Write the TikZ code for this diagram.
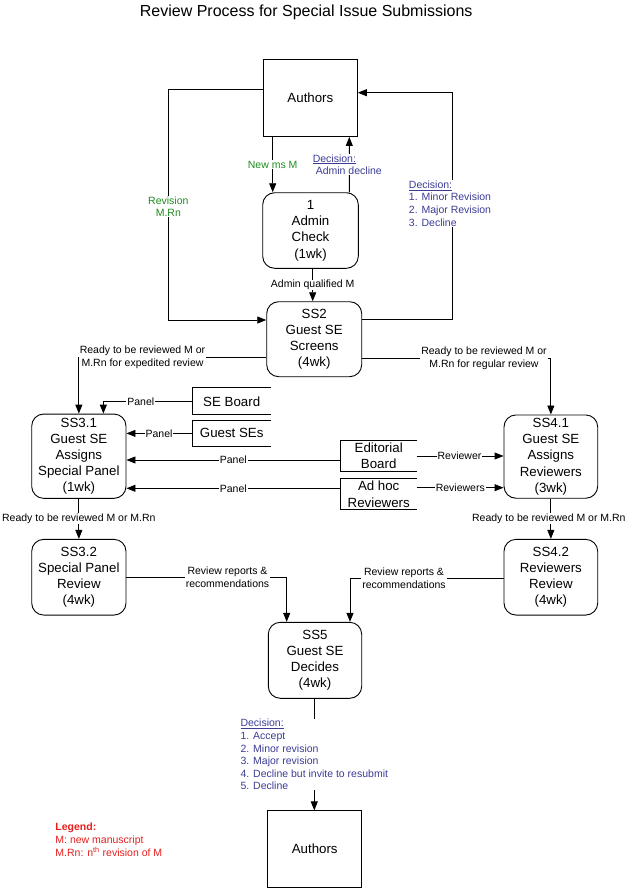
\documentclass[tikz,border=0pt]{standalone}
\usepackage{fontspec}
\setmainfont{Liberation Sans}
\usetikzlibrary{arrows.meta}
\definecolor{grn}{RGB}{30,140,30}
\definecolor{dec}{RGB}{60,60,150}
\definecolor{leg}{RGB}{230,30,30}
\begin{document}
\begin{tikzpicture}[x=1pt,y=-1pt, line width=0.9pt,
  arr/.style={-{Triangle[length=9pt,width=7pt]}},
  bigfont/.style={font=\fontsize{13.3}{16.2}\selectfont},
  ent/.style={draw, inner sep=0pt, bigfont, minimum width=94pt, minimum height=77pt},
  proc/.style={draw, rounded corners=12pt, inner sep=0pt, align=center, bigfont},
  store/.style={inner sep=0pt, align=center, bigfont},
  lab/.style={fill=white, inner xsep=1pt, inner ysep=0.5pt, align=center, font=\fontsize{10.5}{12.6}\selectfont}]
\useasboundingbox (0,0) rectangle (629,888);

\node[font=\fontsize{16}{19}\selectfont, inner sep=0pt] (title) at (306.2,12) {Review Process for Special Issue Submissions};

% entities and processes
\node[ent] (A1) at (310.4,98) {Authors};
\node[proc, minimum width=95.6pt, minimum height=75.6pt] (AC) at (310.5,230.5) {1\\Admin\\Check\\(1wk)};
\node[proc, minimum width=95pt, minimum height=75pt] (SS2) at (314.2,339.2) {SS2\\Guest SE\\Screens\\(4wk)};
\node[proc, minimum width=94.3pt, minimum height=84.3pt] (S31) at (78.85,456.2) {SS3.1\\Guest SE\\Assigns\\Special Panel\\(1wk)};
\node[proc, minimum width=93.7pt, minimum height=83.3pt] (S41) at (550.85,456.6) {SS4.1\\Guest SE\\Assigns\\Reviewers\\(3wk)};
\node[proc, minimum width=94.3pt, minimum height=75.7pt] (S32) at (78.85,577.2) {SS3.2\\Special Panel\\Review\\(4wk)};
\node[proc, minimum width=93.7pt, minimum height=75.7pt] (S42) at (550.85,577.2) {SS4.2\\Reviewers\\Review\\(4wk)};
\node[proc, minimum width=93.4pt, minimum height=76pt] (S5) at (315,660.3) {SS5\\Guest SE\\Decides\\(4wk)};
\node[ent, minimum height=76.3pt] (A2) at (314.7,849) {Authors};

% data stores
\node[store, minimum width=76.7pt, minimum height=26pt] (SEB) at (231.7,401.3) {SE Board};
\node[store, minimum width=76.7pt, minimum height=25.3pt] (GSE) at (231.7,433.4) {Guest SEs};
\node[store, minimum width=76pt, minimum height=30pt] (EDB) at (378.7,456) {Editorial\\Board};
\node[store, minimum width=76pt, minimum height=29.7pt] (AHR) at (378.7,494.2) {Ad hoc\\Reviewers};
\foreach \s in {SEB,GSE,EDB,AHR}
  \draw (\s.north east) -- (\s.north west) -- (\s.south west) -- (\s.south east);

% top connectors
\draw[arr] ([xshift=-37.7pt]A1.south) -- node[lab,text=grn]{New ms M} ([xshift=-37.8pt]AC.north);
\draw[arr] ([xshift=38.8pt]AC.north) -- node[lab,text=dec,align=left,xshift=-2pt]{\underline{Decision:}\\\hspace*{3pt}Admin decline} ([xshift=38.9pt]A1.south);

\coordinate (rv) at (168.3,320);
\draw[arr] ([yshift=8.7pt]A1.west) -| (rv) -- (rv -| SS2.west);
\node[lab,text=grn] (revlab) at (168.3,206.5) {Revision\\M.Rn};

\coordinate (dl) at (452.5,319.3);
\draw[arr] (dl -| SS2.east) -- (dl) |- ([yshift=5.3pt]A1.east);
\node[lab,text=dec,align=left] (declab) at (450,203.5) {\underline{Decision:}\\1. Minor Revision\\2. Major Revision\\3. Decline};

\draw[arr] ([xshift=2.2pt]AC.south) -- node[lab]{Admin qualified M} ([xshift=-1.5pt]SS2.north);

% SS2 to review branches
\draw[arr] ([yshift=-17.8pt]SS2.west) -| (S31.north);
\node[lab] (explab) at (142.5,357) {Ready to be reviewed M or\\M.Rn for expedited review};
\draw[arr] ([yshift=-19pt]SS2.east) -| (S41.north);
\node[lab] (reglab) at (484,358.2) {Ready to be reviewed M or\\M.Rn for regular review};

% panels
\draw[arr] (SEB.west) -| ([xshift=24.5pt]S31.north);
\node[lab] (p1) at (140.8,401.3) {Panel};
\draw[arr] (GSE.west) -- (GSE.west -| S31.east);
\node[lab] (p2) at (159,433.4) {Panel};
\coordinate (e1) at ([yshift=-4pt]EDB.west);
\draw[arr] (e1) -- (e1 -| S31.east);
\node[lab] (p3) at (233.3,460) {Panel};
\coordinate (h1) at ([yshift=5.9pt]AHR.west);
\draw[arr] (h1) -- (h1 -| S31.east);
\node[lab] (p4) at (233.3,488.3) {Panel};

% reviewers
\draw[arr] (EDB.east) -- (EDB.east -| S41.west);
\node[lab] (r1) at (459.5,456) {Reviewer};
\coordinate (h2) at ([yshift=6.5pt]AHR.east);
\draw[arr] (h2) -- (h2 -| S41.west);
\node[lab] (r2) at (460.3,487.7) {Reviewers};

% reviews
\draw[arr] (S31.south) -- node[lab]{Ready to be reviewed M or M.Rn} (S32.north);
\draw[arr] (S41.south) -- node[lab,xshift=-2pt]{Ready to be reviewed M or M.Rn} (S42.north);

\draw[arr] (S32.east) -| ([xshift=-28.3pt]S5.north);
\node[lab] (rr1) at (227.5,577.2) {Review reports \&\\recommendations};
\draw[arr] ([yshift=-1.1pt]S42.west) -| ([xshift=35pt]S5.north);
\node[lab] (rr2) at (404,578.3) {Review reports \&\\recommendations};

% final decision
\draw[arr] ([xshift=-0.7pt]S5.south) -- node[lab,text=dec,align=left]{\underline{Decision:}\\1. Accept\\2. Minor revision\\3. Major revision\\4. Decline but invite to resubmit\\5. Decline} ([xshift=-0.4pt]A2.north);

% legend
\node[anchor=west, align=left, text=leg, inner sep=0pt, font=\fontsize{10.5}{12.8}\selectfont] (legend) at (55,839.8) {\textbf{Legend:}\\M: new manuscript\\M.Rn: n\textsuperscript{th} revision of M};
\end{tikzpicture}
\end{document}
